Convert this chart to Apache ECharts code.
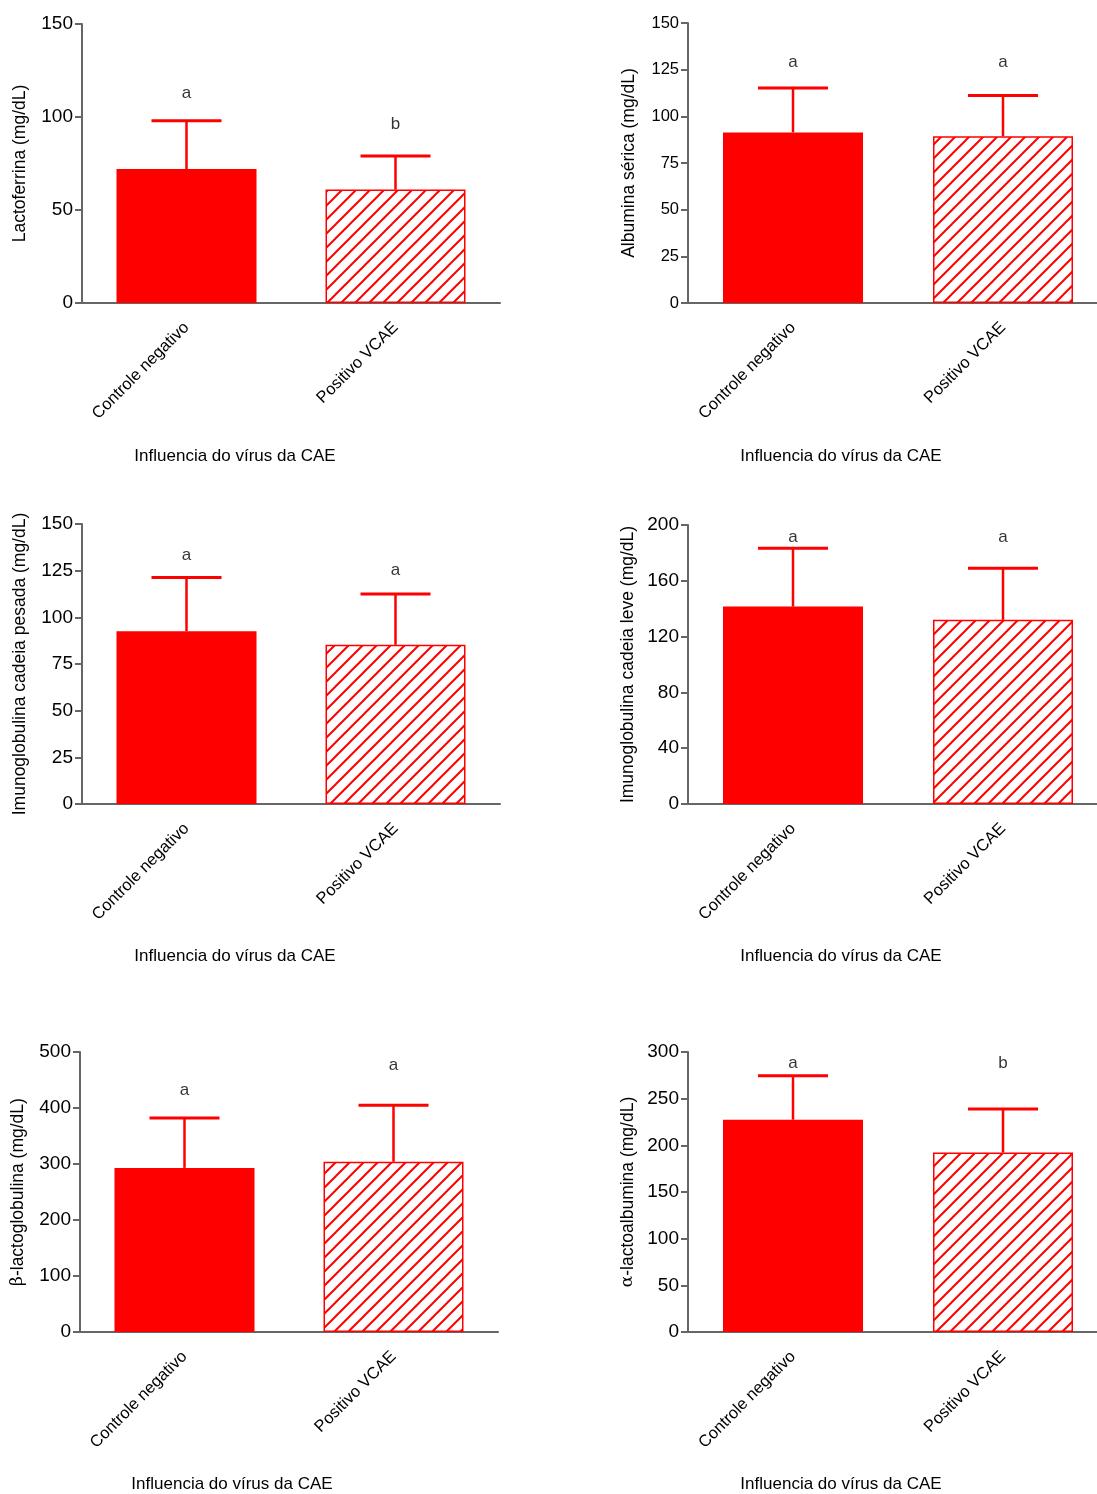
<!DOCTYPE html>
<html lang="pt">
<head>
    <meta charset="utf-8">
</head>
<body style="margin: 0">
<div id="container" style="width: 1097px; height: 1494px"></div>

<script type="text/javascript" src="https://fastly.jsdelivr.net/npm/echarts@6/dist/echarts.min.js"></script>
<script type="text/javascript">
    // dados
    var groups = ['Controle negativo', 'Positivo VCAE'];
    var xTitle = 'Influencia do vírus da CAE';
    var yTitles = [
        'Lactoferrina (mg/dL)',
        'Albumina sérica (mg/dL)',
        'Imunoglobulina cadeia pesada (mg/dL)',
        'Imunoglobulina cadeia leve (mg/dL)',
        'β-lactoglobulina (mg/dL)',
        'α-lactoalbumina (mg/dL)'
    ];
    var means = [[72, 61], [91.4, 89.3], [92.5, 85.3], [141.5, 132], [293, 304], [227.5, 192.4]];
    var errs = [[26, 18], [23.8, 21.9], [28.9, 27.2], [41.8, 37], [89, 101], [47.1, 46.6]];
    var letters = [['a', 'b'], ['a', 'a'], ['a', 'a'], ['a', 'a'], ['a', 'a'], ['a', 'b']];
    var letterY = [[113, 96], [129, 129], [133, 125], [191, 191], [431, 477], [287.5, 287.5]];
    var yMax = [150, 150, 150, 200, 500, 300];
    var yStep = [50, 25, 25, 40, 100, 50];

    // layout de cada painel
    var panels = [
        {left: 82, top: 24, width: 418, height: 279, gap: 53, tick: 19, tx: 235, ty: 448},
        {left: 688, top: 23, width: 420, height: 280, gap: 50, tick: 16.5, tx: 841, ty: 448},
        {left: 82, top: 524, width: 418, height: 280, gap: 53, tick: 19, tx: 235, ty: 948},
        {left: 688, top: 525, width: 420, height: 279, gap: 51, tick: 19, tx: 841, ty: 948},
        {left: 80, top: 1052, width: 418, height: 280, gap: 53, tick: 19, tx: 232, ty: 1476},
        {left: 688, top: 1052, width: 420, height: 280, gap: 51, tick: 19, tx: 841, ty: 1476}
    ];

    var RED = '#ff0000';
    var AXIS = '#666666';
    var FONT = 'Liberation Sans, Arial, sans-serif';

    // hachura diagonal
    var tile = document.createElement('canvas');
    tile.width = 14;
    tile.height = 14;
    var ctx = tile.getContext('2d');
    ctx.strokeStyle = RED;
    ctx.lineWidth = 2;
    ctx.beginPath();
    ctx.moveTo(-2, 16); ctx.lineTo(16, -2);
    ctx.moveTo(-2, 2); ctx.lineTo(2, -2);
    ctx.moveTo(12, 16); ctx.lineTo(16, 12);
    ctx.stroke();

    var dom = document.getElementById('container');
    var myChart = echarts.init(dom, null, {renderer: 'canvas'});

    var grid = [], xAxis = [], yAxis = [], series = [], title = [];

    panels.forEach(function (p, i) {
        grid.push({left: p.left, top: p.top, width: p.width, height: p.height, outerBoundsMode: 'none'});

        var name = yTitles[i];
        var rich = {g: {fontFamily: 'DejaVu Serif, serif', fontSize: 17, color: '#000'}};
        if (name.charAt(0) === 'β' || name.charAt(0) === 'α') {
            name = '{g|' + name.charAt(0) + '}' + name.slice(1);
        }

        xAxis.push({
            type: 'category',
            gridIndex: i,
            data: groups,
            axisLine: {lineStyle: {color: AXIS, width: 2}},
            axisTick: {alignWithLabel: true, length: 8, lineStyle: {color: AXIS, width: 2}},
            axisLabel: {rotate: 45, fontSize: 16.5, color: '#000', fontFamily: FONT, margin: 22}
        });
        yAxis.push({
            type: 'value',
            gridIndex: i,
            min: 0,
            max: yMax[i],
            interval: yStep[i],
            name: name,
            nameLocation: 'middle',
            nameGap: p.gap,
            nameTextStyle: {fontSize: 17.5, color: '#000', fontFamily: FONT, rich: rich},
            axisLine: {show: true, lineStyle: {color: AXIS, width: 2}},
            axisTick: {show: true, length: 7, lineStyle: {color: AXIS, width: 2}},
            axisLabel: {fontSize: p.tick, color: '#000', fontFamily: FONT, margin: 9},
            splitLine: {show: false}
        });

        series.push({
            type: 'bar',
            xAxisIndex: i,
            yAxisIndex: i,
            barWidth: 140,
            z: 2,
            data: [
                {value: means[i][0], itemStyle: {color: RED}},
                {value: means[i][1], itemStyle: {color: {image: tile, repeat: 'repeat'}, borderColor: RED, borderWidth: 1.5}}
            ]
        });

        series.push({
            type: 'custom',
            xAxisIndex: i,
            yAxisIndex: i,
            z: 3,
            data: means[i].map(function (m, j) { return [j, m, m + errs[i][j]]; }),
            renderItem: function (params, api) {
                var base = api.coord([api.value(0), api.value(1)]);
                var top = api.coord([api.value(0), api.value(2)]);
                return {
                    type: 'group',
                    children: [
                        {type: 'line', shape: {x1: base[0], y1: base[1], x2: top[0], y2: top[1]},
                            style: {stroke: RED, lineWidth: 2.5}},
                        {type: 'line', shape: {x1: top[0] - 35, y1: top[1], x2: top[0] + 35, y2: top[1]},
                            style: {stroke: RED, lineWidth: 3}}
                    ]
                };
            }
        });

        series.push({
            type: 'scatter',
            xAxisIndex: i,
            yAxisIndex: i,
            symbolSize: 0,
            data: letterY[i].map(function (v, j) { return [j, v]; }),
            label: {
                show: true,
                position: 'inside',
                fontSize: 17,
                color: '#000',
                fontFamily: FONT,
                formatter: function (d) { return letters[i][d.dataIndex]; }
            }
        });

        title.push({
            text: xTitle,
            left: p.tx,
            top: p.ty,
            textAlign: 'center',
            padding: 0,
            textStyle: {fontSize: 17, fontWeight: 'normal', color: '#000', fontFamily: FONT}
        });
    });

    var option = {
        animation: false,
        backgroundColor: '#fff',
        title: title,
        grid: grid,
        xAxis: xAxis,
        yAxis: yAxis,
        series: series
    };
    myChart.setOption(option);

    window.addEventListener('resize', myChart.resize);
</script>
</body>
</html>
